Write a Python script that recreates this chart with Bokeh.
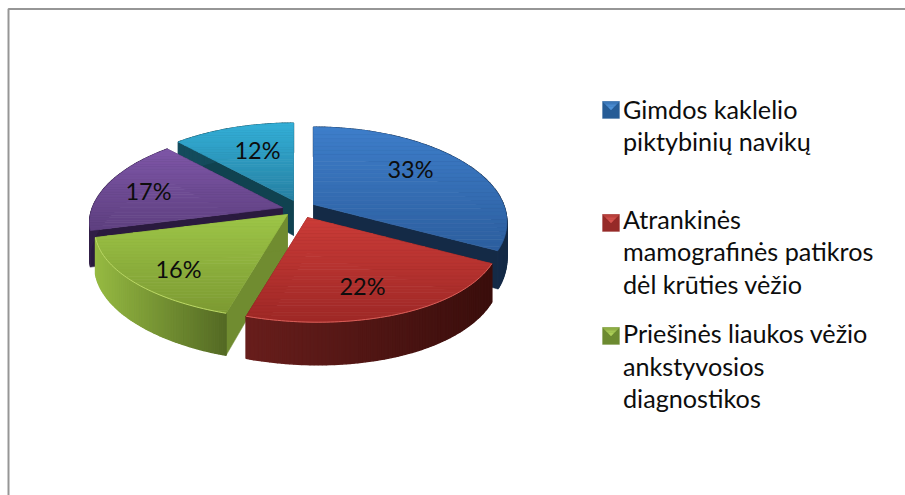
from math import sin, cos, radians
from bokeh.plotting import figure
from bokeh.models import Range1d
from bokeh.core.properties import value
from bokeh.embed import file_html
from bokeh.resources import INLINE

# ---- data ----
shares = [33, 22, 16, 17, 12]
share_labels = ["33%", "22%", "16%", "17%", "12%"]
legend_names = ["Gimdos kaklelio\npiktybinių navikų",
                "Atrankinės\nmamografinės patikros\ndėl krūties vėžio",
                "Priešinės liaukos vėžio\nankstyvosios\ndiagnostikos"]

# ---- layout and style ----
W, H = 905, 495
apex = [(313, 204), (307, 217), (287, 214), (282, 207), (293, 200)]
label_pos = [(410, 168), (362, 285), (178, 268), (148, 190), (257, 149)]
R, K, P, PY, D = 190, 89, 0.178, 0.15, 35
SKEW = 0.045
top_cols = [((62, 126, 202), (44, 94, 158)), ((203, 60, 56), (158, 40, 38)),
            ((158, 198, 72), (124, 154, 50)), ((127, 87, 168), (94, 64, 128)),
            ((52, 176, 216), (38, 128, 162))]
rim_cols = [((26, 52, 88), (20, 42, 70)), ((104, 30, 28), (58, 14, 12)),
            ((150, 186, 66), (84, 106, 36)), ((50, 32, 72), (40, 25, 60)),
            ((20, 75, 92), (20, 75, 92))]
wall_cols = [(20, 42, 70), (90, 25, 22), (112, 140, 48), (42, 26, 62), (16, 66, 80)]
edge_cols = [None, "#d9605a", "#bcd868", None, None]
legend_base = [(38, 92, 150), (150, 42, 40), (108, 138, 48)]
legend_light = [(92, 160, 232), (232, 96, 90), (190, 225, 100)]
legend_box_y = [101, 214, 327]
legend_base_y = [108, 218, 332.5]
LINE_H = 32.5


def lerp(a, b, t):
    return tuple(int(round(a[i] + (b[i] - a[i]) * t)) for i in range(3))


def hexc(c):
    return "#%02x%02x%02x" % c


def proj(ax, ay, deg, r=1.0, drop=0.0):
    u, v = sin(radians(deg)) * r, -cos(radians(deg)) * r
    s = 1.0 / (1.0 - P * v)
    sy = 1.0 / (1.0 - PY * v)
    lean = SKEW * v * v if v > 0 else 0.0
    return ax + R * (u + lean) * s, ay + K * v * sy + drop * s


def clip_band(poly, y0, y1):
    def clip(pts, keep, cross):
        out = []
        for i in range(len(pts)):
            a, b = pts[i], pts[(i + 1) % len(pts)]
            if keep(a):
                out.append(a)
            if keep(a) != keep(b):
                t = (cross - a[1]) / (b[1] - a[1])
                out.append((a[0] + (b[0] - a[0]) * t, cross))
        return out
    pts = clip(poly, lambda q: q[1] >= y0, y0)
    if pts:
        pts = clip(pts, lambda q: q[1] <= y1, y1)
    return pts


p = figure(width=W, height=H, x_range=Range1d(0, W), y_range=Range1d(H, 0),
           output_backend="svg", toolbar_location=None, min_border=0,
           background_fill_color="white", border_fill_color="white", outline_line_color=None)
p.axis.visible = False
p.grid.visible = False


def draw(polys, cols, lw=1.0):
    p.patches([[q[0] for q in g] for g in polys], [[q[1] for q in g] for g in polys],
              fill_color=cols, line_color=cols, line_width=lw)


starts = []
acc = 0.0
for v in shares:
    starts.append(acc)
    acc += v * 3.6

for i in [4, 3, 0, 2, 1]:
    ax, ay = apex[i]
    a0, a1 = starts[i], starts[i] + shares[i] * 3.6
    n = max(8, int(a1 - a0))
    angs = [a0 + (a1 - a0) * k / n for k in range(n + 1)]
    # radial walls
    polys, cols = [], []
    for a in (a0, a1):
        e = proj(ax, ay, a)
        e2 = proj(ax, ay, a, drop=D)
        polys.append([(ax, ay), e, e2, (ax, ay + D)])
        cols.append(hexc(wall_cols[i]))
    draw(polys, cols, 0.5)
    # outer rim
    polys, cols = [], []
    xs0, xs1 = min(proj(ax, ay, a)[0] for a in angs), max(proj(ax, ay, a)[0] for a in angs)
    for k in range(n):
        g = [proj(ax, ay, angs[k]), proj(ax, ay, angs[k + 1]),
             proj(ax, ay, angs[k + 1], drop=D), proj(ax, ay, angs[k], drop=D)]
        polys.append(g)
        t = (g[0][0] - xs0) / max(1, xs1 - xs0)
        cols.append(hexc(lerp(rim_cols[i][0], rim_cols[i][1], t)))
    draw(polys, cols, 1.4)
    # top face
    outline = [(ax, ay)] + [proj(ax, ay, a) for a in angs]
    y0, y1 = min(q[1] for q in outline), max(q[1] for q in outline)
    polys, cols = [], []
    bands = 32
    for k in range(bands):
        b0, b1 = y0 + (y1 - y0) * k / bands, y0 + (y1 - y0) * (k + 1) / bands
        g = clip_band(outline, b0, b1)
        if len(g) >= 3:
            polys.append(g)
            cols.append(hexc(lerp(top_cols[i][0], top_cols[i][1], (k + 0.5) / bands)))
    draw(polys, cols, 0.7)
    if edge_cols[i]:
        arc = [proj(ax, ay, a) for a in angs]
        p.line([q[0] for q in arc], [q[1] for q in arc], line_color=edge_cols[i], line_width=1)

# frame
p.line([8, 8, W], [H, 8.5, 8.5], line_color="#969696", line_width=2)

# pie labels
p.text([q[0] for q in label_pos], [q[1] for q in label_pos], text=share_labels,
       text_font=value("Lato"), text_font_size=value("23.5px"), text_color="#0d0d0d",
       text_align="center", text_baseline="middle")

# legend
for j, name in enumerate(legend_names):
    top = legend_box_y[j]
    polys = [[(602, top), (619, top), (619, top + 17), (602, top + 17)]]
    cols = [hexc(legend_base[j])]
    draw(polys, cols, 0.3)
    steps = 5
    for k in range(steps):
        t0, t1 = k / steps, (k + 1) / steps
        inset0, inset1 = 8.5 * t0, 8.5 * t1
        g = [(602 + inset0, top + 8.5 * t0), (619 - inset0, top + 8.5 * t0),
             (619 - inset1, top + 8.5 * t1), (602 + inset1, top + 8.5 * t1)]
        draw([g], [hexc(lerp(legend_base[j], legend_light[j], 0.35 + 0.65 * (k + 0.5) / steps))], 0.2)
    lines = name.split("\n")
    p.text([622.5] * len(lines), [legend_base_y[j] + LINE_H * n for n in range(len(lines))], text=lines,
           text_font=value("Lato"), text_font_size=value("25.2px"), text_color="#0d0d0d",
           text_align="left", text_baseline="alphabetic")

open("out.html", "w").write(file_html(p, INLINE))
